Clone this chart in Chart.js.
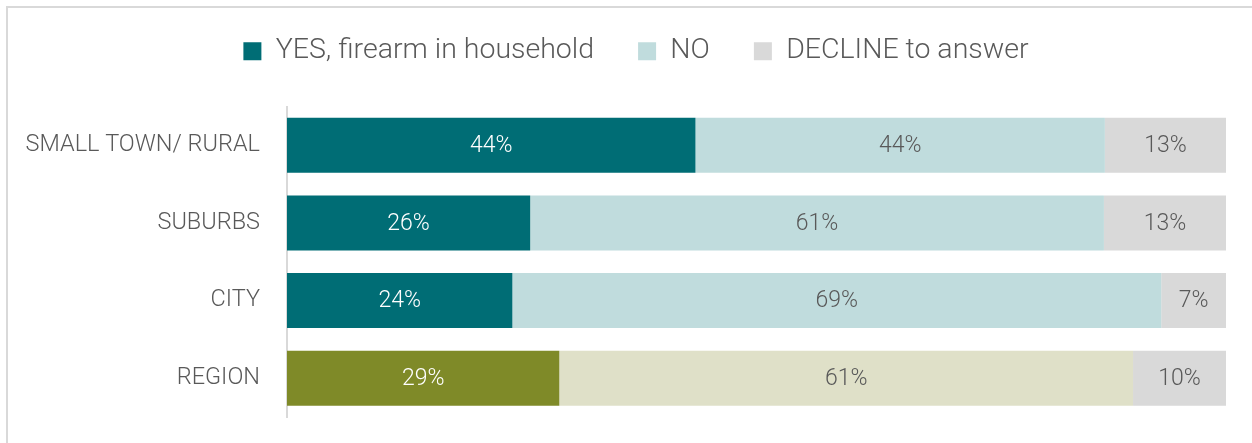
<!DOCTYPE html>
<html>
<head>
<meta charset="utf-8">
<script src="https://cdn.jsdelivr.net/npm/chart.js@4"></script>
<style>
  html, body { margin: 0; padding: 0; background: #ffffff; }
  #wrap { position: relative; width: 1252px; height: 443px; overflow: hidden; }
  #frame { position: absolute; left: 6px; top: 6px; width: 1300px; height: 500px;
           border: 2px solid #d9d9d9; box-sizing: border-box; }
  #Chart1 { position: absolute; left: 0; top: 0; }
</style>
</head>
<body>
<div id="wrap">
  <div id="frame"></div>
  <canvas id="Chart1" width="1252" height="443"></canvas>
</div>
<script>
// data (share of households, %)
var categories = ['SMALL TOWN/ RURAL', 'SUBURBS', 'CITY', 'REGION'];
var yesValues = [43.5, 25.9, 24.0, 29.0];
var noValues = [43.6, 61.1, 69.1, 61.1];
var declineValues = [12.9, 13.0, 6.9, 9.9];
var seriesNames = ['YES, firearm in household', 'NO', 'DECLINE to answer'];

var FONT = "Roboto, 'Noto Sans', sans-serif";
var TEXT_GREY = '#595959';

// region row gets its own colours
function pick(normal, region) {
    return function(ctx) {
        return ctx.dataIndex === 3 ? region : normal;
    };
}

// draws the % labels in the middle of each segment
var barLabels = {
    id: 'barLabels',
    afterDatasetsDraw: function(chart) {
        var c = chart.ctx;
        c.save();
        c.font = '300 23px ' + FONT;
        c.textAlign = 'center';
        c.textBaseline = 'middle';
        chart.data.datasets.forEach(function(ds, i) {
            var meta = chart.getDatasetMeta(i);
            meta.data.forEach(function(bar, j) {
                var x = (bar.x + bar.base) / 2;
                c.fillStyle = i === 0 ? '#ffffff' : TEXT_GREY;
                c.fillText(Math.round(ds.data[j]) + '%', x, bar.y + 1);
            });
        });
        c.restore();
    }
};

// move the legend up and to the middle of the frame
var legendShift = {
    id: 'legendShift',
    afterLayout: function(chart) {
        var lg = chart.legend;
        lg.top -= 31;
        lg.bottom -= 31;
        lg.left += 23;
        lg.right += 23;
    }
};

window.onload = function() {
    Chart.defaults.font.family = FONT;
    Chart.defaults.font.weight = 300;
    Chart.defaults.color = TEXT_GREY;

    var ctx = document.getElementById('Chart1').getContext('2d');
    var myChart = new Chart(ctx, {
        type: 'bar',
        data: {
            labels: categories,
            datasets: [{
                label: seriesNames[0],
                data: yesValues,
                backgroundColor: pick('#006d75', '#7f8a28')
            }, {
                label: seriesNames[1],
                data: noValues,
                backgroundColor: pick('#c0dcdd', '#dfe0c8')
            }, {
                label: seriesNames[2],
                data: declineValues,
                backgroundColor: '#d9d9d9'
            }]
        },
        options: {
            responsive: false,
            animation: false,
            indexAxis: 'y',
            layout: {
                padding: { left: 0, right: 26, top: 24, bottom: 26 }
            },
            datasets: {
                bar: {
                    categoryPercentage: 1,
                    barPercentage: 0.71,
                    borderWidth: 0
                }
            },
            scales: {
                x: {
                    stacked: true,
                    display: false,
                    min: 0,
                    max: 100
                },
                y: {
                    stacked: true,
                    grid: { display: false, drawTicks: false },
                    border: { display: true, color: '#d9d9d9', width: 2 },
                    ticks: {
                        color: TEXT_GREY,
                        padding: 27,
                        font: { size: 23.5, weight: 300 }
                    },
                    afterFit: function(scale) {
                        scale.width = 287;
                        // labels sit inside the bands, no extra room needed
                        scale.paddingTop = 0;
                        scale.paddingBottom = 0;
                    }
                }
            },
            plugins: {
                legend: {
                    display: true,
                    position: 'top',
                    labels: {
                        color: TEXT_GREY,
                        boxWidth: 18,
                        boxHeight: 18,
                        padding: 44,
                        font: { size: 28.5, weight: 300 }
                    }
                },
                tooltip: { enabled: false }
            }
        },
        plugins: [barLabels, legendShift]
    });
};
</script>
</body>
</html>
